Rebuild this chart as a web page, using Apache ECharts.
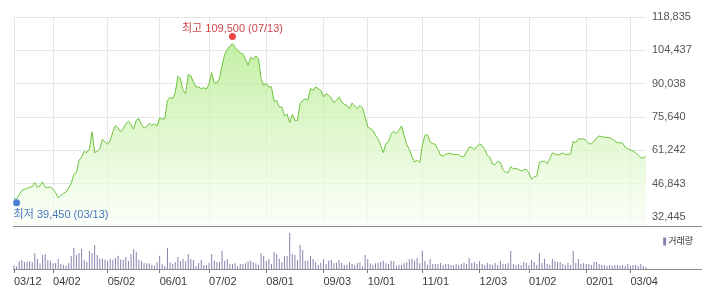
<!DOCTYPE html>
<html><head><meta charset="utf-8">
<script src="https://cdn.jsdelivr.net/npm/echarts@6/dist/echarts.min.js"></script>
<style>html,body{margin:0;padding:0;background:#fff}#c{width:702px;height:295px}</style>
</head><body><div id="c"></div>
<script>
// Trading days (KRX) per month
const tradingDays = {
  '2018-03': [12,13,14,15,16,19,20,21,22,23,26,27,28,29,30],
  '2018-04': [2,3,4,5,6,9,10,11,12,13,16,17,18,19,20,23,24,25,26,27,30],
  '2018-05': [2,3,4,8,9,10,11,14,15,16,17,18,21,23,24,25,28,29,30,31],
  '2018-06': [1,4,5,7,8,11,12,14,15,18,19,20,21,22,25,26,27,28,29],
  '2018-07': [2,3,4,5,6,9,10,11,12,13,16,17,18,19,20,23,24,25,26,27,30,31],
  '2018-08': [1,2,3,6,7,8,9,10,13,14,16,17,20,21,22,23,24,27,28,29,30,31],
  '2018-09': [3,4,5,6,7,10,11,12,13,14,17,18,19,20,21,27,28],
  '2018-10': [1,2,4,5,8,10,11,12,15,16,17,18,19,22,23,24,25,26,29,30,31],
  '2018-11': [1,2,5,6,7,8,9,12,13,14,15,16,19,20,21,22,23,26,27,28,29,30],
  '2018-12': [3,4,5,6,7,10,11,12,13,14,17,18,19,20,21,24,26,27,28],
  '2019-01': [2,3,4,7,8,9,10,11,14,15,16,17,18,21,22,23,24,25,28,29,30,31],
  '2019-02': [1,7,8,11,12,13,14,15,18,19,20,21,22,25,26,27,28],
  '2019-03': [4,5,6,7,8,11,12]
};
// Closing prices
const prices = [
  40400,40100,42100,43850,44400,44700,45300,45550,47300,45300,
  45850,47600,45150,45150,45450,44400,42950,40650,41800,42700,
  43250,45000,46850,50750,51600,56950,58350,60800,60250,61950,
  69200,60250,60800,61950,66000,64850,63850,65550,69200,72050,
  70900,69200,70600,72750,73800,72350,70350,74200,74950,72350,
  70900,71500,72900,72050,72650,71750,75200,74650,74950,82850,
  84150,83550,86150,93200,92200,87150,85750,93950,93350,90800,
  88600,88600,87900,88300,87600,90050,94800,90350,90350,92200,
  97700,102600,104900,106300,107300,105750,104300,103450,102850,100550,
  97950,101450,100550,102000,100850,92200,89350,90050,88600,88600,
  82400,82850,79950,79950,76100,76950,73200,76800,74200,74200,
  81400,82850,83550,82850,87900,87150,88600,87900,87150,84300,
  85750,85000,83850,81850,82850,84300,82150,81000,80700,79250,
  81700,80400,79250,80700,79550,75650,71350,70600,69900,67750,
  66000,63400,60250,64150,64850,68450,69450,68450,69900,71750,
  67750,63700,61700,58400,56200,56950,55950,63400,67750,68000,
  64850,64150,63800,61700,59100,58800,59550,59950,59800,59400,
  59400,59400,58500,58500,60550,62550,62550,61550,63000,64000,
  63400,61700,58950,58250,55350,55050,56500,55950,52900,51900,
  51600,54200,53200,53500,52900,52350,52750,53050,51450,48750,
  49750,50150,55950,56500,56500,55500,57650,60100,59650,59250,
  59550,60100,59400,59550,59650,65150,64550,66300,66000,66300,
  65450,64150,64000,65150,66600,67450,67150,67000,66750,66750,
  66150,65300,64550,64550,64300,62700,61950,61400,60950,60250,
  59100,58100,57950,58800
];
// Volume (thousand shares)
const volumes = [
  37,27,77,90,73,70,77,67,157,100,
  57,140,147,90,83,57,60,100,50,43,
  33,60,130,210,140,160,200,90,70,180,
  160,240,140,103,103,93,83,103,93,110,
  133,93,93,120,80,150,200,170,93,83,
  60,57,57,40,33,67,133,47,30,210,
  67,50,70,120,80,103,77,150,100,90,
  30,60,90,40,40,63,150,83,70,70,
  183,83,100,50,50,57,30,50,50,57,
  77,83,67,57,43,160,133,83,103,50,
  170,150,103,70,130,130,360,150,140,90,
  240,190,83,83,133,100,67,40,63,97,
  50,83,90,57,63,90,63,40,43,70,
  50,37,60,67,27,140,100,57,43,57,
  63,73,83,57,50,83,77,33,43,43,
  57,70,97,103,83,110,57,183,83,43,
  100,50,50,50,60,40,50,50,40,40,
  50,40,50,60,50,110,60,70,50,80,
  50,40,60,50,40,60,40,80,50,50,
  60,180,50,40,50,40,70,60,40,90,
  70,40,160,60,100,50,40,100,80,70,
  70,50,40,60,40,180,60,100,50,60,
  50,50,40,70,70,50,40,40,30,40,
  30,40,40,30,40,30,50,30,40,40,
  30,50,30,20
];
const yTickValues = [32445, 46843, 61242, 75640, 90038, 104437, 118835];
const highPoint = { date: '2018-07-13', value: 109500, title: '최고' };
const lowPoint = { date: '2018-03-13', value: 39450, title: '최저' };
const volumeName = '거래량';

const dates = [];
Object.keys(tradingDays).forEach(m => tradingDays[m].forEach(d => dates.push(m + '-' + String(d).padStart(2, '0'))));
const monthStart = new Set();
dates.forEach((d, i) => { if (i === 0 || d.slice(0, 7) !== dates[i - 1].slice(0, 7)) monthStart.add(i); });
const isMonthStart = (i) => monthStart.has(i);
const fmtDate = d => d.slice(5, 7) + '/' + d.slice(8, 10);
const fmtNum = v => String(Math.round(v)).replace(/\B(?=(\d{3})+(?!\d))/g, ',');
const FONT = "'Liberation Sans', 'Noto Sans CJK KR', sans-serif";

const chart = echarts.init(document.getElementById('c'), null, { renderer: 'canvas' });
chart.setOption({
  animation: false,
  backgroundColor: '#fff',
  textStyle: { fontFamily: FONT },
  grid: [
    { left: 14, right: 56, top: 17, height: 210 },
    { left: 14, right: 56, top: 229, height: 40 }
  ],
  legend: {
    data: [{ name: volumeName, icon: 'rect' }],
    right: 4, top: 232, itemWidth: 3, itemHeight: 8, selectedMode: false,
    textStyle: { fontSize: 9, color: '#333', fontFamily: FONT, padding: [0, 0, 0, -3] }
  },
  xAxis: [
    { gridIndex: 0, type: 'category', data: dates, boundaryGap: false,
      axisLine: { show: false }, axisTick: { show: false }, axisLabel: { show: false },
      splitLine: { show: true, interval: isMonthStart, lineStyle: { color: '#e6e6e6', width: 1 } } },
    { gridIndex: 1, type: 'category', data: dates, boundaryGap: false,
      axisLine: { show: false },
      axisTick: { show: true, interval: isMonthStart, length: 4, lineStyle: { color: '#777' } },
      axisLabel: { interval: isMonthStart, formatter: fmtDate, align: 'left', color: '#3a3a3a', fontSize: 11, margin: 7, fontFamily: FONT },
      splitLine: { show: false } }
  ],
  yAxis: [
    { gridIndex: 0, type: 'value', position: 'right', min: 28125, max: 118835,
      axisLine: { show: false },
      axisTick: { show: false, customValues: yTickValues },
      axisLabel: { customValues: yTickValues, formatter: fmtNum, color: '#555', fontSize: 11, margin: 6, fontFamily: FONT },
      splitLine: { show: true, lineStyle: { color: '#e6e6e6', width: 1 } } },
    { gridIndex: 1, type: 'value', min: 0, max: 400, show: false }
  ],
  graphic: [
    { type: 'line', silent: true, z: 100, shape: { x1: 13, y1: 226.5, x2: 702, y2: 226.5 }, style: { stroke: '#8c8c8c', lineWidth: 1 } },
    { type: 'line', silent: true, z: 100, shape: { x1: 13, y1: 269.5, x2: 702, y2: 269.5 }, style: { stroke: '#8c8c8c', lineWidth: 1 } }
  ],
  series: [
    { type: 'line', xAxisIndex: 0, yAxisIndex: 0, data: prices, symbol: 'none', silent: true,
      lineStyle: { color: '#6fc43f', width: 1 },
      areaStyle: { color: new echarts.graphic.LinearGradient(0, 0, 0, 1, [
        { offset: 0, color: '#abe97f' }, { offset: 0.5, color: '#d5f5bd' }, { offset: 1, color: '#fbfff8' }
      ]) } },
    { type: 'bar', name: volumeName, xAxisIndex: 1, yAxisIndex: 1, data: volumes, barWidth: 1, silent: true,
      itemStyle: { color: '#8c7fb0' } },
    { type: 'scatter', xAxisIndex: 0, yAxisIndex: 0, data: [[highPoint.date, highPoint.value]],
      symbolSize: 7, symbolOffset: [0, -2], itemStyle: { color: '#e8141b' }, silent: true, z: 10,
      label: { show: true, position: 'top', distance: 2, offset: [0, 3], color: '#c0141a', fontSize: 11, fontFamily: FONT,
        formatter: () => `${highPoint.title} ${fmtNum(highPoint.value)} (${fmtDate(highPoint.date)})` } },
    { type: 'scatter', xAxisIndex: 0, yAxisIndex: 0, data: [[lowPoint.date, lowPoint.value]],
      symbolSize: 7, symbolOffset: [0, 2], itemStyle: { color: '#1f62d0' }, silent: true, z: 10,
      label: { show: true, position: 'bottom', distance: 2, align: 'left', offset: [-3, 1], color: '#1d55b5', fontSize: 11, fontFamily: FONT,
        formatter: () => `${lowPoint.title} ${fmtNum(lowPoint.value)} (${fmtDate(lowPoint.date)})` } }
  ]
});
</script></body></html>
